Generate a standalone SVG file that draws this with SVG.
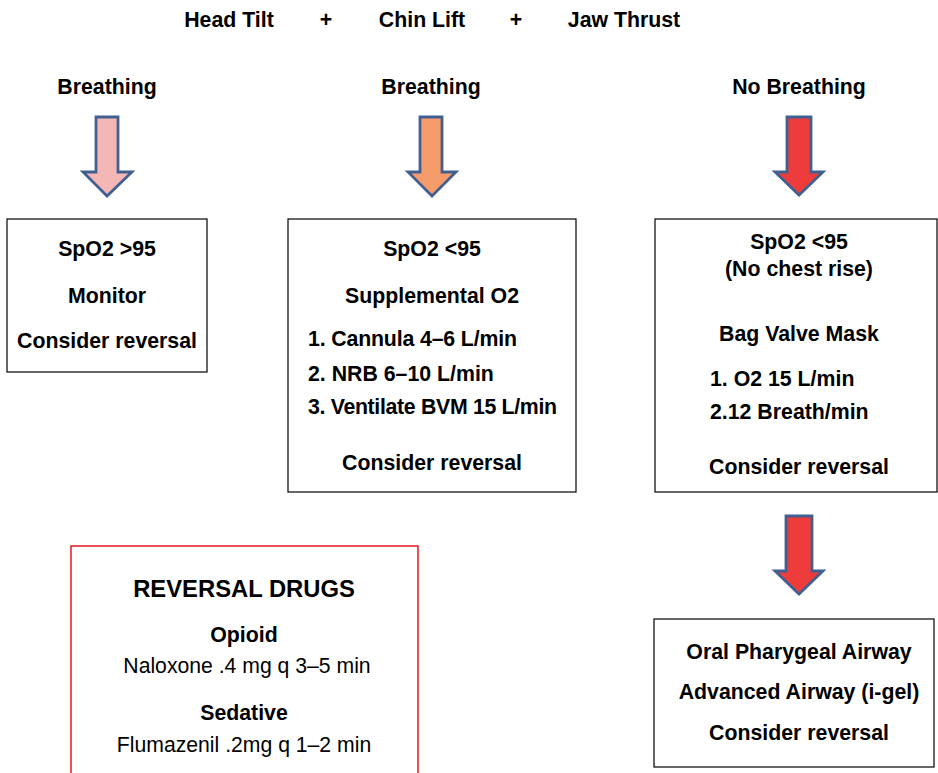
<svg xmlns="http://www.w3.org/2000/svg" width="938" height="773" viewBox="0 0 938 773">
<style>
text{font-family:"Liberation Sans",Arial,sans-serif;fill:#000}
.b{font-weight:bold;font-size:21.3px}
.c{text-anchor:middle}
.r{font-size:21.2px}
.box{fill:#fff;stroke:#000;stroke-width:1.2}
.arr{stroke:#41608f;stroke-width:2.8;stroke-linejoin:miter}
</style>
<rect width="938" height="773" fill="#fff"/>
<g id="header">
<text class="b c" x="229" y="27">Head Tilt</text>
<text class="b c" x="326" y="27">+</text>
<text class="b c" x="422" y="27">Chin Lift</text>
<text class="b c" x="516" y="27">+</text>
<text class="b c" x="624" y="27">Jaw Thrust</text>
</g>
<g id="labels">
<text class="b c" x="107" y="94">Breathing</text>
<text class="b c" x="431" y="94">Breathing</text>
<text class="b c" x="799" y="94">No Breathing</text>
</g>
<g id="connectors">
<path class="arr" fill="#f5b6b6" d="M96,117 H118 V172 H132 L107,196 L83,172 H96 Z"/>
<path class="arr" fill="#f69b6a" d="M420,117 H442 V172 H456 L432,196 L408,172 H420 Z"/>
<path class="arr" fill="#ee3b3b" d="M787,117 H811 V172 H823 L799,195 L775,172 H787 Z"/>
<path class="arr" fill="#ee3b3b" d="M786,516 H812 V571 H823 L799,594 L775,571 H786 Z"/>
</g>
<g id="box1">
<rect class="box" x="7" y="219" width="200" height="153"/>
<text class="b c" x="107" y="256">SpO2 &gt;95</text>
<text class="b c" x="107" y="303">Monitor</text>
<text class="b c" x="107" y="348">Consider reversal</text>
</g>
<g id="box2">
<rect class="box" x="288" y="219" width="288" height="273"/>
<text class="b c" x="432" y="256">SpO2 &lt;95</text>
<text class="b c" x="432" y="303">Supplemental O2</text>
<text class="b" x="308" y="346" textLength="209" lengthAdjust="spacing">1. Cannula 4–6 L/min</text>
<text class="b" x="308" y="381">2. NRB 6–10 L/min</text>
<text class="b" x="308" y="414" textLength="249" lengthAdjust="spacing">3. Ventilate BVM 15 L/min</text>
<text class="b c" x="432" y="470">Consider reversal</text>
</g>
<g id="box3">
<rect class="box" x="655" y="219" width="282" height="273"/>
<text class="b c" x="799" y="249">SpO2 &lt;95</text>
<text class="b c" x="799" y="276">(No chest rise)</text>
<text class="b c" x="799" y="341">Bag Valve Mask</text>
<text class="b" x="710" y="386">1. O2 15 L/min</text>
<text class="b" x="710" y="419">2.12 Breath/min</text>
<text class="b c" x="799" y="474">Consider reversal</text>
</g>
<g id="box4">
<rect x="71" y="546" width="347" height="240" fill="#fff" stroke="#e8262b" stroke-width="1.6"/>
<text class="c" x="244" y="597" font-weight="bold" font-size="23.8px">REVERSAL DRUGS</text>
<text class="b c" x="244" y="642">Opioid</text>
<text class="r c" x="247" y="673">Naloxone .4 mg q 3–5 min</text>
<text class="b c" x="244" y="720">Sedative</text>
<text class="r c" x="244" y="752">Flumazenil .2mg q 1–2 min</text>
</g>
<g id="box5">
<rect class="box" x="654" y="619" width="280" height="148"/>
<text class="b c" x="799" y="659">Oral Pharygeal Airway</text>
<text class="b c" x="799" y="699">Advanced Airway (i-gel)</text>
<text class="b c" x="799" y="740">Consider reversal</text>
</g>
</svg>
